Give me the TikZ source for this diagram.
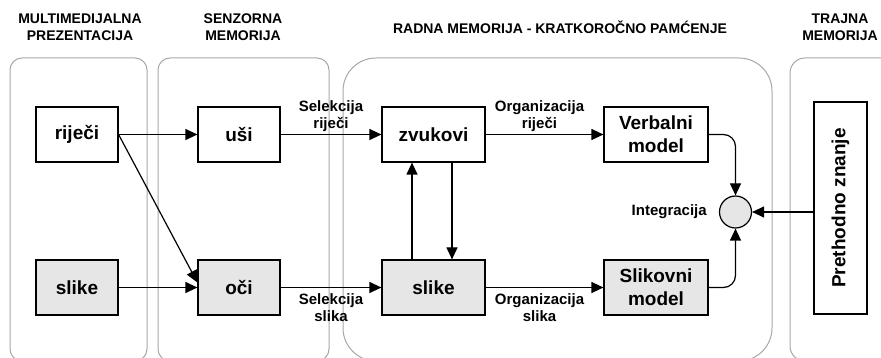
\documentclass[tikz,border=0pt]{standalone}
\usepackage{fontspec}
\setmainfont{Liberation Sans}
\usetikzlibrary{arrows.meta,calc}
\definecolor{panelgray}{HTML}{A8A8A8}
\definecolor{boxgray}{HTML}{E6E6E6}
\tikzset{
  panel/.style={draw=panelgray, line width=1pt},
  boxw/.style={draw=black, line width=1.2pt, fill=white, minimum height=55pt, inner sep=0pt, align=center,
    font=\fontsize{19}{23}\selectfont\bfseries},
  boxg/.style={boxw, fill=boxgray},
  arr/.style={draw=black, line width=1.2pt, -{Triangle[length=12pt,width=11pt]}},
  lbl/.style={font=\fontsize{15}{17}\selectfont\bfseries, align=center, inner sep=1pt},
  hdr/.style={font=\fontsize{14}{17}\selectfont\bfseries, align=center, inner sep=0pt}
}
\begin{document}
\begin{tikzpicture}[x=1pt,y=-1pt]
\useasboundingbox (0,0) rectangle (881,358);
\clip (0,0) rectangle (881,358);
% panels
\draw[panel, rounded corners=12pt] (10,58) rectangle (147,361);
\draw[panel, rounded corners=12pt] (158,58) rectangle (329,361);
\draw[panel, rounded corners=33pt] (343,58) rectangle (772,361);
\draw[panel, rounded corners=15pt] (790,58) rectangle (910,361);
% headers
\node[hdr] (h1) at (80,27) {MULTIMEDIJALNA\\PREZENTACIJA};
\node[hdr] (h2) at (243,27) {SENZORNA\\MEMORIJA};
\node[hdr] (h3) at (560,27) {RADNA MEMORIJA - KRATKOROČNO PAMĆENJE};
\node[hdr] (h4) at (840,27) {TRAJNA\\MEMORIJA};
% boxes
\node[boxw, minimum width=82pt] (rijeci) at (77,134.5) {riječi};
\node[boxw, minimum width=82pt] (usi) at (239,134.5) {uši};
\node[boxw, minimum width=103pt] (zvukovi) at (433.5,134.5) {zvukovi};
\node[boxw, minimum width=104pt] (verbal) at (656,134.5) {Verbalni\\model};
\node[boxg, minimum width=82pt] (slikeL) at (77,287.5) {slike};
\node[boxg, minimum width=82pt] (oci) at (239,287.5) {oči};
\node[boxg, minimum width=103pt] (slikeM) at (433.5,287.5) {slike};
\node[boxg, minimum width=104pt] (slikovni) at (656,287.5) {Slikovni\\model};
\node[boxw, rotate=90, minimum width=212pt, minimum height=53pt] (znanje) at (840.5,208) {Prethodno znanje};
\node[draw=black, line width=1.2pt, fill=boxgray, circle, minimum size=32pt, inner sep=0pt] (circ) at (735.5,212) {};
% connectors
\draw[arr] (rijeci) -- (usi);
\draw[arr] (usi) -- node[lbl, above=1pt] {Selekcija\\riječi} (zvukovi);
\draw[arr] (rijeci.east) -- ([yshift=5pt]oci.west);
\draw[arr] (slikeL) -- (oci);
\draw[arr] (oci) -- node[lbl, below=5pt] {Selekcija\\slika} (slikeM);
\draw[arr] (zvukovi) -- node[lbl, above=1pt, xshift=-5pt] {Organizacija\\riječi} (verbal);
\draw[arr] (slikeM) -- node[lbl, below=5pt, xshift=-5pt] {Organizacija\\slika} (slikovni);
\draw[arr] ([xshift=-21.5pt]slikeM.north) -- ([xshift=-21.5pt]zvukovi.south);
\draw[arr] ([xshift=18.5pt]zvukovi.south) -- ([xshift=18.5pt]slikeM.north);
\draw[arr, rounded corners=12pt] (verbal.east) -| (circ.north);
\draw[arr, rounded corners=12pt] (slikovni.east) -| (circ.south);
\draw[arr] (znanje.north |- circ.east) -- (circ.east);
\node[lbl, anchor=east] (integ) at ([xshift=-11pt]circ.west) {Integracija};
\end{tikzpicture}
\end{document}
